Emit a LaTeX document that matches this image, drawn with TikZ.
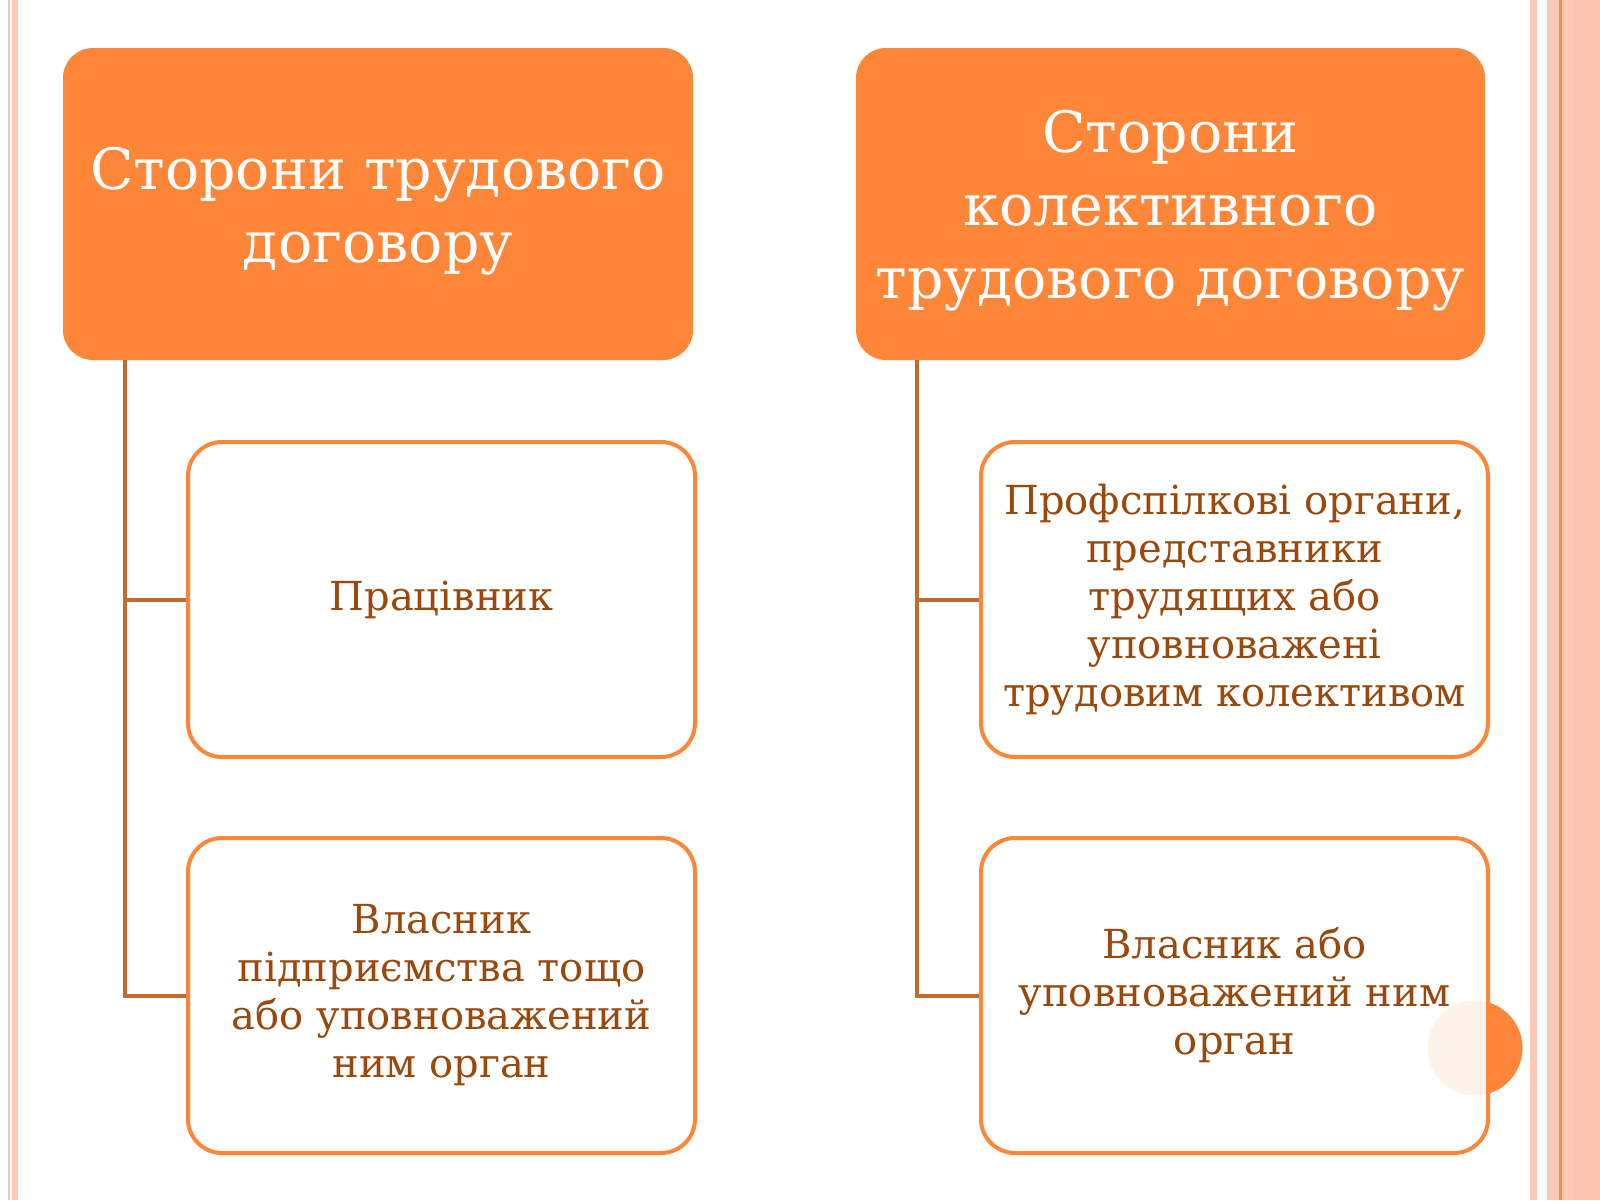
\documentclass[tikz,border=0pt]{standalone}
\usepackage{fontspec}
\setmainfont{DejaVu Serif}
\definecolor{hdrorange}{RGB}{253,134,56}
\definecolor{txtbrown}{RGB}{155,72,12}
\definecolor{connbrown}{RGB}{197,105,45}
\definecolor{stripepale}{RGB}{253,201,180}
\definecolor{stripepaleb}{RGB}{252,196,175}
\definecolor{stripepink}{RGB}{244,192,188}
\definecolor{stripeline}{RGB}{249,138,80}
\newcommand{\hdrtext}[1]{\raisebox{-7pt}[\height][\depth]{\begin{tabular}{@{}c@{}}#1\end{tabular}}}
\tikzset{
  hdrbox/.style={rectangle, rounded corners=30pt, fill=hdrorange, draw=none,
    text=white, inner sep=0pt, minimum width=630pt, minimum height=312pt,
    font=\fontsize{57}{73}\selectfont},
  childbox/.style={rectangle, rounded corners=34pt, fill=white, fill opacity=0.9, text opacity=1,
    draw=hdrorange, line width=4pt, text=txtbrown, align=center, inner sep=0pt,
    minimum width=507pt, minimum height=315pt, font=\fontsize{40}{48}\selectfont},
  conn/.style={draw=connbrown, line width=4pt}
}
\begin{document}
\begin{tikzpicture}[x=1pt,y=-1pt]
\useasboundingbox (0,0) rectangle (1600,1200);
\fill[white] (0,0) rectangle (1600,1200);
% left stripes
\fill[stripepink] (8,0) rectangle (10,1200);
\fill[stripepale] (12,0) rectangle (18,1200);
% right stripes
\fill[stripepale] (1530,0) rectangle (1537,1200);
\fill[stripepale] (1547,0) rectangle (1559,1200);
\fill[stripeline] (1559,0) rectangle (1562,1200);
\fill[stripepale] (1562,0) rectangle (1573,1200);
\fill[stripepaleb] (1573,0) rectangle (1600,1200);
% headers
\node[hdrbox] (h1) at (378,204) {\hdrtext{Сторони трудового\\договору}};
\node[hdrbox, minimum width=629pt] (h2) at (1170.5,204) {\hdrtext{Сторони\\колективного\\трудового договору}};
% decorative circle
\fill[hdrorange] (1475,1048) circle (47.5);
% children
\node[childbox] (c11) at (441.5,599.5) {Працівник};
\node[childbox] (c12) at (441.5,995.5) {Власник\\підприємства тощо\\або уповноважений\\ним орган};
\node[childbox] (c21) at (1234.5,599.5) {Профспілкові органи,\\представники\\трудящих або\\уповноважені\\трудовим колективом};
\node[childbox] (c22) at (1234.5,995.5) {Власник або\\уповноважений ним\\орган};
% connectors
\draw[conn] ([xshift=62pt]h1.south west) |- (c11.west);
\draw[conn] ([xshift=62pt]h1.south west) |- (c12.west);
\draw[conn] ([xshift=61pt]h2.south west) |- (c21.west);
\draw[conn] ([xshift=61pt]h2.south west) |- (c22.west);
\end{tikzpicture}
\end{document}
